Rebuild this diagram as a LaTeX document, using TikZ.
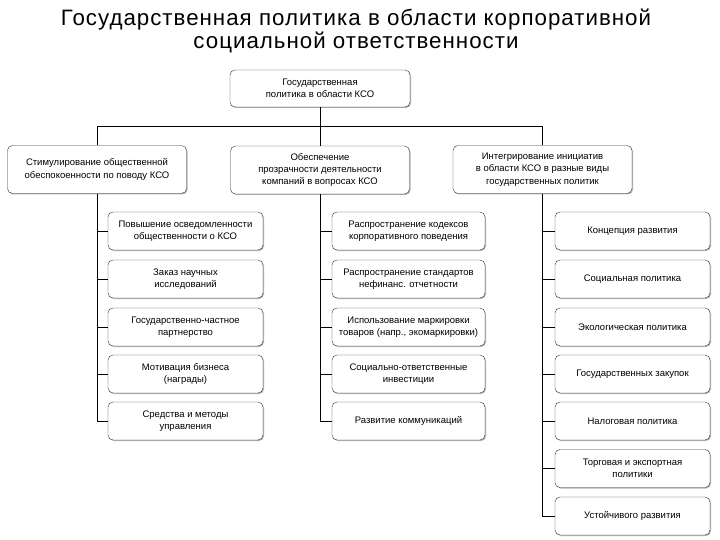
\documentclass[tikz,border=0pt]{standalone}
\usepackage{fontspec}
\setmainfont{Liberation Sans}
\newfontfamily\titlefont[LetterSpace=4.5]{Liberation Sans}
\usetikzlibrary{shadows}
\tikzset{box/.style={draw=black!80, fill=white, rounded corners=5pt, align=center,
    minimum width=155pt, minimum height=38pt, inner sep=1pt,
    font=\fontsize{9.5}{12.3}\selectfont, drop shadow={shadow xshift=1pt, shadow yshift=-1pt, opacity=0.6}},
  bigbox/.style={box, minimum width=179pt, minimum height=48pt},
  link/.style={draw=black, line width=0.8pt}}

\begin{document}
\begin{tikzpicture}[x=1pt, y=-1pt]
    \useasboundingbox[fill=white] (0,0) rectangle (720,540);
    % title
    \node[align=center, font=\titlefont\fontsize{22.3}{22.3}\selectfont] (title) at (356,31)
        {Государственная политика в области корпоративной\\социальной ответственности};
    % top level
    \node[box, minimum width=180pt, minimum height=37pt] (top) at (320,88.5)
        {Государственная\\политика в области КСО};
    \node[bigbox] (stim) at (97,169.5) {Стимулирование общественной\\обеспокоенности по поводу КСО};
    \node[bigbox] (prozr) at (320,170) {Обеспечение\\прозрачности деятельности\\компаний в вопросах КСО};
    \node[bigbox] (integr) at (542.5,169.5) {Интегрирование инициатив\\в области КСО в разные виды\\государственных политик};
    \draw[link] (top.south) -- (prozr.north);
    \draw[link] (stim.north) -- ++(0,-19) -| (integr.north);
    % first column
    \node[box] (s1) at (185.5,231) {Повышение осведомленности\\общественности о КСО};
    \node[box] (s2) at (185.5,279) {Заказ научных\\исследований};
    \node[box] (s3) at (185.5,327) {Государственно-частное\\партнерство};
    \node[box] (s4) at (185.5,374) {Мотивация бизнеса\\(награды)};
    \node[box] (s5) at (185.5,421) {Средства и методы\\управления};
    % second column
    \node[box, minimum width=153pt] (p1) at (408.5,231) {Распространение кодексов\\корпоративного поведения};
    \node[box, minimum width=153pt] (p2) at (408.5,279) {Распространение стандартов\\нефинанс. отчетности};
    \node[box, minimum width=153pt] (p3) at (408.5,327) {Использование маркировки\\товаров (напр., экомаркировки)};
    \node[box, minimum width=153pt] (p4) at (408.5,374) {Социально-ответственные\\инвестиции};
    \node[box, minimum width=153pt] (p5) at (408.5,421) {Развитие коммуникаций};
    % third column
    \node[box] (i1) at (632.5,231) {Концепция развития};
    \node[box] (i2) at (632.5,279) {Социальная политика};
    \node[box] (i3) at (632.5,327) {Экологическая политика};
    \node[box] (i4) at (632.5,374) {Государственных закупок};
    \node[box] (i5) at (632.5,421) {Налоговая политика};
    \node[box] (i6) at (632.5,468.5) {Торговая и экспортная\\политики};
    \node[box] (i7) at (632.5,516) {Устойчивого развития};
    % connectors to the lists
    \draw[link] (stim.south) |- (s5.west);
    \draw[link] (prozr.south) |- (p5.west);
    \draw[link] (integr.south) |- (i7.west);
    \foreach \k in {1,...,4} {
        \draw[link] (stim.south |- s\k.west) -- (s\k.west);
        \draw[link] (prozr.south |- p\k.west) -- (p\k.west);
    }
    \foreach \k in {1,...,6}
        \draw[link] (integr.south |- i\k.west) -- (i\k.west);
\end{tikzpicture}
\end{document}
